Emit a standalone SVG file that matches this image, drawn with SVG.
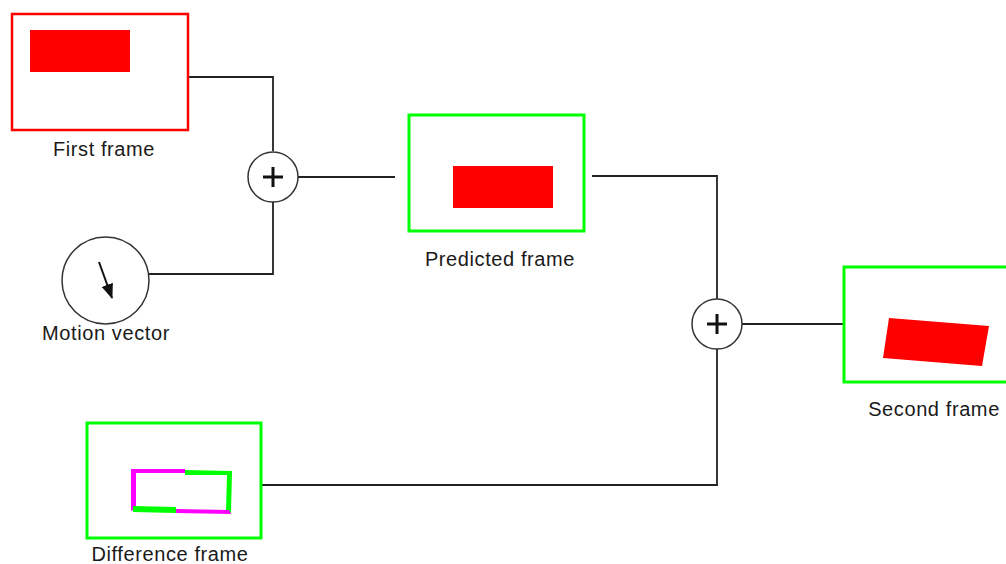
<svg xmlns="http://www.w3.org/2000/svg" width="1006" height="564" viewBox="0 0 1006 564">
  <style>
    .wire { fill: none; stroke: #222; stroke-width: 1.8; }
    .sum { fill: #fff; stroke: #333; stroke-width: 1.5; }
    .plus { stroke: #111; stroke-width: 3; }
    .frame-red { fill: #fff; stroke: #ff0000; stroke-width: 2.5; }
    .frame-green { fill: #fff; stroke: #00ff00; stroke-width: 3; }
    .blob { fill: #ff0000; }
    .label { font-family: "Liberation Sans", Arial, sans-serif; font-size: 20px; letter-spacing: 0.6px; fill: #1a1a1a; text-anchor: middle; }
  </style>
  <defs>
    <marker id="head" viewBox="0 0 15 12" refX="14" refY="6" markerWidth="15" markerHeight="12" orient="auto" markerUnits="userSpaceOnUse">
      <path d="M0,0 L15,6 L0,12 z" fill="#111"/>
    </marker>
  </defs>

  <rect width="1006" height="564" fill="#fff"/>

  <!-- connectors -->
  <g id="connectors">
    <polyline class="wire" points="188,77 273,77 273,151"/>
    <polyline class="wire" points="149,274 273,274 273,202"/>
    <line class="wire" x1="298" y1="177" x2="395" y2="177"/>
    <polyline class="wire" points="592,176 717,176 717,299"/>
    <line class="wire" x1="742" y1="324" x2="843" y2="324"/>
    <polyline class="wire" points="717,349 717,485 262,485"/>
  </g>

  <!-- first frame -->
  <g id="first-frame">
    <rect class="frame-red" x="12" y="14" width="176" height="116"/>
    <rect class="blob" x="30" y="30" width="100" height="42"/>
    <text class="label" x="104" y="156">First frame</text>
  </g>

  <!-- motion vector -->
  <g id="motion-vector">
    <circle cx="105.5" cy="280.5" r="43.5" fill="#fff" stroke="#333" stroke-width="1.5"/>
    <line x1="99" y1="262" x2="112" y2="298" stroke="#111" stroke-width="2" marker-end="url(#head)"/>
    <text class="label" x="106" y="340">Motion vector</text>
  </g>

  <!-- first summing junction -->
  <g id="sum-1">
    <circle class="sum" cx="273" cy="177" r="25"/>
    <line class="plus" x1="263" y1="177" x2="283" y2="177"/>
    <line class="plus" x1="273" y1="167" x2="273" y2="187"/>
  </g>

  <!-- predicted frame -->
  <g id="predicted-frame">
    <rect class="frame-green" x="409" y="115" width="175" height="116"/>
    <rect class="blob" x="453" y="166" width="100" height="42"/>
    <text class="label" x="500" y="266">Predicted frame</text>
  </g>

  <!-- second summing junction -->
  <g id="sum-2">
    <circle class="sum" cx="717" cy="324" r="25"/>
    <line class="plus" x1="707" y1="324" x2="727" y2="324"/>
    <line class="plus" x1="717" y1="314" x2="717" y2="334"/>
  </g>

  <!-- second frame -->
  <g id="second-frame">
    <rect class="frame-green" x="844" y="267" width="176" height="115"/>
    <polygon class="blob" points="889,318 989,326 982,366 883,358"/>
    <text class="label" x="934" y="416">Second frame</text>
  </g>

  <!-- difference frame -->
  <g id="difference-frame">
    <rect class="frame-green" x="87" y="423" width="174" height="115"/>
    <!-- outline left by the moved block: magenta where it left, green where it arrived -->
    <polygon points="131,469 185,469 185,473 136,473 136,509 131,511" fill="#ff00ff"/>
    <polygon points="185,470 232,471 231,513 226,511 227,475 185,475" fill="#00ff00"/>
    <polygon points="133,506 176,507 176,513 133,512" fill="#00ff00"/>
    <polygon points="176,509 229,510 231,514 176,513" fill="#ff00ff"/>
    <text class="label" x="170" y="561">Difference frame</text>
  </g>
</svg>
